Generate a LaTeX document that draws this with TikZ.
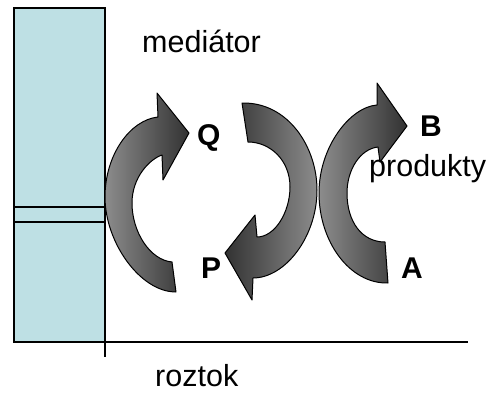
\documentclass[tikz,border=0pt]{standalone}
\usepackage{fontspec}
\setmainfont{Liberation Sans}
\definecolor{cellcyan}{RGB}{190,224,228}
\definecolor{arrlight}{RGB}{140,140,140}
\definecolor{arrdark}{RGB}{50,50,50}
\begin{document}
\begin{tikzpicture}[x=1pt,y=1pt,
  lbl/.style={anchor=base west,inner sep=0pt,font=\fontsize{30.5}{36}\selectfont},
  blbl/.style={lbl,font=\fontsize{30}{36}\selectfont\bfseries},
  arrowshape/.style={draw=black,line width=1pt,line join=round},
  ltr/.style={arrowshape,left color=arrlight,right color=arrdark},
  rtl/.style={arrowshape,left color=arrdark,right color=arrlight}]
\useasboundingbox (0,0) rectangle (493,392);
% electrode
\draw[line width=1.5pt,fill=cellcyan] (14,50) rectangle (105,384);
\draw[line width=1.5pt] (14,185) -- (105,185);
\draw[line width=1.5pt] (14,170) -- (105,170);
\draw[line width=1.5pt] (105,50) -- (468,50);
\draw[line width=1.5pt] (105,50) -- (105,35);
% left arrow (to Q)
\path[ltr] (176,100) .. controls (140,100) and (105,150) .. (105,195)
  .. controls (105,237) and (130,272) .. (158,275)
  -- (157,299) -- (189,259) -- (163,212) -- (162,237)
  .. controls (150,233) and (132,215) .. (132,189)
  .. controls (132,160) and (150,132) .. (172,130) -- cycle;
% middle arrow (to P)
\path[rtl] (242,289) .. controls (288,290) and (317,245) .. (317,202)
  .. controls (317,155) and (285,114) .. (253,114)
  -- (252,92) -- (225,139) -- (255,177) -- (257,155)
  .. controls (275,155) and (290,180) .. (290,205)
  .. controls (290,232) and (270,250) .. (248,250) -- cycle;
% right arrow (to B)
\path[ltr] (388,109) .. controls (350,108) and (319,150) .. (319,199)
  .. controls (319,245) and (350,285) .. (377,287)
  -- (377,309) -- (407,266) -- (380,230) -- (378,245)
  .. controls (360,243) and (347,222) .. (347,199)
  .. controls (347,170) and (362,150) .. (385,150) -- cycle;
% labels
\node[lbl] (med) at (142,340) {mediátor};
\node[lbl] (roz) at (155,6) {roztok};
\node[lbl] (prod) at (369,216) {produkty};
\node[blbl] (B) at (420,256) {B};
\node[blbl] (Q) at (197,247) {Q};
\node[blbl] (P) at (201,114) {P};
\node[blbl] (A) at (401,114) {A};
\end{tikzpicture}
\end{document}
